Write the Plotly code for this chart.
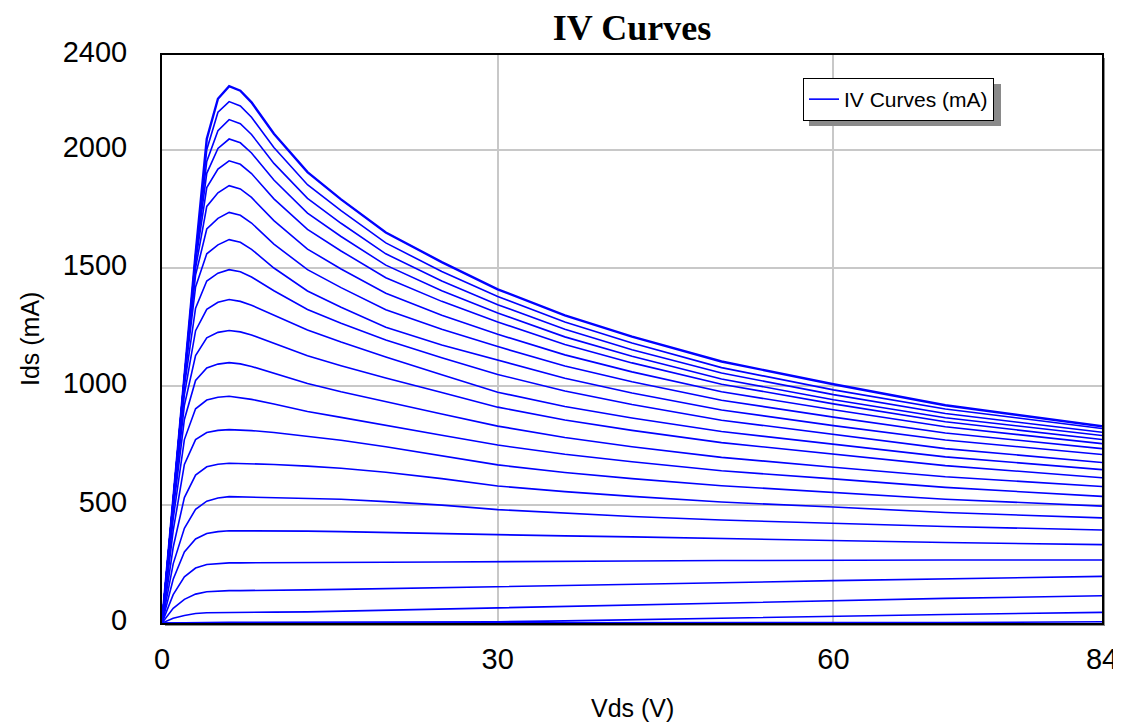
import plotly.graph_objects as go

# Drain voltage sample points (V)
vds = [0, 1, 2, 3, 4, 5, 6, 7, 8, 10, 13, 16, 20, 25, 30, 36, 42, 50, 60, 70, 84]

# Drain current (mA) for each gate step
id_00 = [0, 0, 0, 0, 0, 0, 0, 0, 0, 0, 0, 0, 0, 0, 0, 0, 0, 0, 0, 2, 5]
id_01 = [0, 1, 2, 2, 3, 3, 3, 3, 3, 3, 3, 3, 3, 4, 5, 9, 14, 20, 27, 36, 45]
id_02 = [0, 20, 32, 40, 43, 44, 45, 45, 45, 46, 47, 50, 54, 60, 66, 72, 78, 85, 94, 104, 115]
id_03 = [0, 62, 100, 122, 132, 135, 137, 137, 137, 138, 140, 142, 145, 149, 153, 158, 163, 170, 179, 187, 197]
id_04 = [0, 120, 195, 232, 247, 252, 254, 254, 254, 255, 255, 256, 257, 258, 260, 261, 262, 264, 266, 266, 266]
id_05 = [0, 185, 300, 355, 378, 386, 390, 390, 390, 389, 388, 386, 382, 378, 373, 368, 364, 357, 348, 340, 331]
id_06 = [0, 250, 400, 480, 515, 528, 534, 533, 533, 531, 529, 523, 513, 498, 479, 463, 450, 435, 421, 408, 393]
id_07 = [0, 320, 530, 625, 660, 671, 675, 674, 673, 670, 663, 654, 637, 610, 579, 555, 535, 511, 490, 467, 444]
id_08 = [0, 390, 670, 775, 805, 814, 817, 815, 813, 805, 790, 772, 745, 707, 668, 636, 610, 580, 552, 523, 494]
id_09 = [0, 440, 775, 905, 942, 954, 958, 953, 945, 925, 894, 869, 834, 793, 752, 713, 681, 643, 609, 573, 535]
id_10 = [0, 475, 860, 1025, 1078, 1094, 1100, 1095, 1084, 1054, 1012, 977, 934, 883, 832, 784, 745, 700, 658, 618, 577]
id_11 = [0, 495, 920, 1130, 1205, 1228, 1236, 1230, 1217, 1181, 1129, 1087, 1035, 974, 912, 858, 814, 762, 715, 665, 614]
id_12 = [0, 505, 965, 1235, 1325, 1355, 1367, 1359, 1343, 1300, 1238, 1187, 1124, 1049, 975, 915, 866, 809, 757, 702, 648]
id_13 = [0, 510, 1000, 1330, 1445, 1478, 1493, 1484, 1462, 1404, 1325, 1267, 1196, 1121, 1050, 980, 923, 857, 796, 737, 678]
id_14 = [0, 515, 1025, 1420, 1560, 1598, 1620, 1609, 1579, 1500, 1403, 1334, 1250, 1175, 1110, 1034, 972, 900, 834, 773, 712]
id_15 = [0, 518, 1035, 1470, 1665, 1710, 1735, 1723, 1690, 1601, 1493, 1417, 1324, 1241, 1168, 1086, 1019, 941, 870, 803, 737]
id_16 = [0, 520, 1040, 1500, 1760, 1818, 1848, 1834, 1798, 1700, 1580, 1496, 1393, 1300, 1220, 1133, 1061, 977, 901, 829, 758]
id_17 = [0, 520, 1040, 1525, 1840, 1918, 1953, 1938, 1899, 1792, 1663, 1572, 1459, 1359, 1272, 1177, 1099, 1009, 926, 850, 775]
id_18 = [0, 520, 1040, 1540, 1900, 2005, 2045, 2029, 1986, 1872, 1732, 1633, 1512, 1404, 1310, 1209, 1127, 1031, 943, 867, 792]
id_19 = [0, 520, 1040, 1550, 1950, 2080, 2127, 2110, 2064, 1942, 1794, 1689, 1560, 1445, 1345, 1241, 1155, 1056, 965, 885, 806]
id_20 = [0, 520, 1040, 1555, 2000, 2158, 2203, 2185, 2137, 2009, 1852, 1742, 1606, 1485, 1380, 1272, 1183, 1079, 985, 904, 822]
id_21 = [0, 520, 1040, 1560, 2045, 2215, 2268, 2249, 2200, 2067, 1905, 1790, 1650, 1525, 1410, 1300, 1210, 1105, 1009, 920, 831]

curves = [id_00, id_01, id_02, id_03, id_04, id_05, id_06, id_07, id_08, id_09, id_10,
          id_11, id_12, id_13, id_14, id_15, id_16, id_17, id_18, id_19, id_20, id_21]

x_ticks = [0, 30, 60, 84]
y_ticks = [0, 500, 1000, 1500, 2000, 2400]

title_text = "IV Curves"
legend_name = "IV Curves (mA)"
x_title = "Vds (V)"
y_title = "Ids (mA)"

BLUE = "#0000ff"
SANS = "Liberation Sans, Arial, sans-serif"
SERIF = "Liberation Serif, Times New Roman, serif"

fig = go.Figure()
n = len(curves)
for i, ys in enumerate(curves):
    fig.add_trace(go.Scatter(
        x=vds, y=ys, mode="lines",
        line=dict(color=BLUE, width=(2.4 if i == n - 1 else 1.6)),
        name=legend_name, legendgroup="iv",
        showlegend=(i == 0), hoverinfo="skip",
    ))

# The page body keeps an 8px margin, so the figure is laid out 8px smaller.
OFF = 8
W, H = 1121 - OFF, 722 - OFF
L, T = 162 - OFF, 55 - OFF
R, B = W - (1102 - OFF), H - (623 - OFF)
pw, ph = W - L - R, H - T - B


def px_x(page_x):
    return (page_x - OFF - L) / pw


def px_y(page_y):
    return (ph - (page_y - OFF - T)) / ph


# legend box (page pixels) and its drop shadow
LEG_L, LEG_T, LEG_R, LEG_B = 803, 78, 995, 120
SH = 6

shapes = [
    # frame shadow
    dict(type="rect", xref="paper", yref="paper", x0=3 / pw, x1=1 + 3 / pw,
         y0=-3 / ph, y1=1 - 3 / ph,
         fillcolor="#8c8c8c", line=dict(width=0), layer="below"),
    # plot background
    dict(type="rect", xref="paper", yref="paper", x0=0, x1=1, y0=0, y1=1,
         fillcolor="white", line=dict(width=0), layer="below"),
    # legend shadow
    dict(type="rect", xref="paper", yref="paper",
         x0=px_x(LEG_L + SH), x1=px_x(LEG_R + SH),
         y0=px_y(LEG_B + SH), y1=px_y(LEG_T + SH),
         fillcolor="#8a8a8a", line=dict(width=0), layer="above"),
]

fig.update_layout(
    width=W, height=H,
    margin=dict(l=L, r=R, t=T, b=B, pad=0, autoexpand=False),
    paper_bgcolor="white",
    plot_bgcolor="rgba(0,0,0,0)",
    shapes=shapes,
    title=dict(text="<b>" + title_text + "</b>", x=(L + pw / 2) / W, xanchor="center",
               y=1 - (27 - OFF) / H, yanchor="middle",
               font=dict(family=SERIF, size=36, color="black")),
    xaxis=dict(range=[0, 84], tickvals=x_ticks, ticktext=[str(v) for v in x_ticks],
               showgrid=True, gridcolor="#c8c8c8", gridwidth=2, zeroline=False,
               showline=True, linecolor="black", linewidth=2, mirror=True,
               ticks="", ticklabelstandoff=9, automargin=False,
               tickfont=dict(family=SANS, size=29, color="black")),
    yaxis=dict(range=[0, 2400], tickvals=y_ticks, ticktext=[str(v) for v in y_ticks],
               showgrid=True, gridcolor="#c8c8c8", gridwidth=2, zeroline=False,
               showline=True, linecolor="black", linewidth=2, mirror=True,
               ticks="", ticklabelstandoff=27, ticklabelshift=-3, automargin=False,
               tickfont=dict(family=SANS, size=29, color="black")),
    showlegend=True,
    legend=dict(x=px_x(LEG_L), y=px_y(LEG_T), xanchor="left", yanchor="top",
                bgcolor="white", bordercolor="black", borderwidth=1,
                font=dict(family=SANS, size=21, color="black"),
                itemwidth=30),
    annotations=[
        dict(text=x_title, xref="paper", yref="paper", x=0.5, y=px_y(708),
             xanchor="center", yanchor="middle", showarrow=False,
             font=dict(family=SANS, size=25, color="black")),
        dict(text=y_title, xref="paper", yref="paper", x=px_x(30), y=0.5,
             xanchor="center", yanchor="middle", textangle=-90, showarrow=False,
             font=dict(family=SANS, size=25, color="black")),
    ],
)

fig.write_html("out.html")
